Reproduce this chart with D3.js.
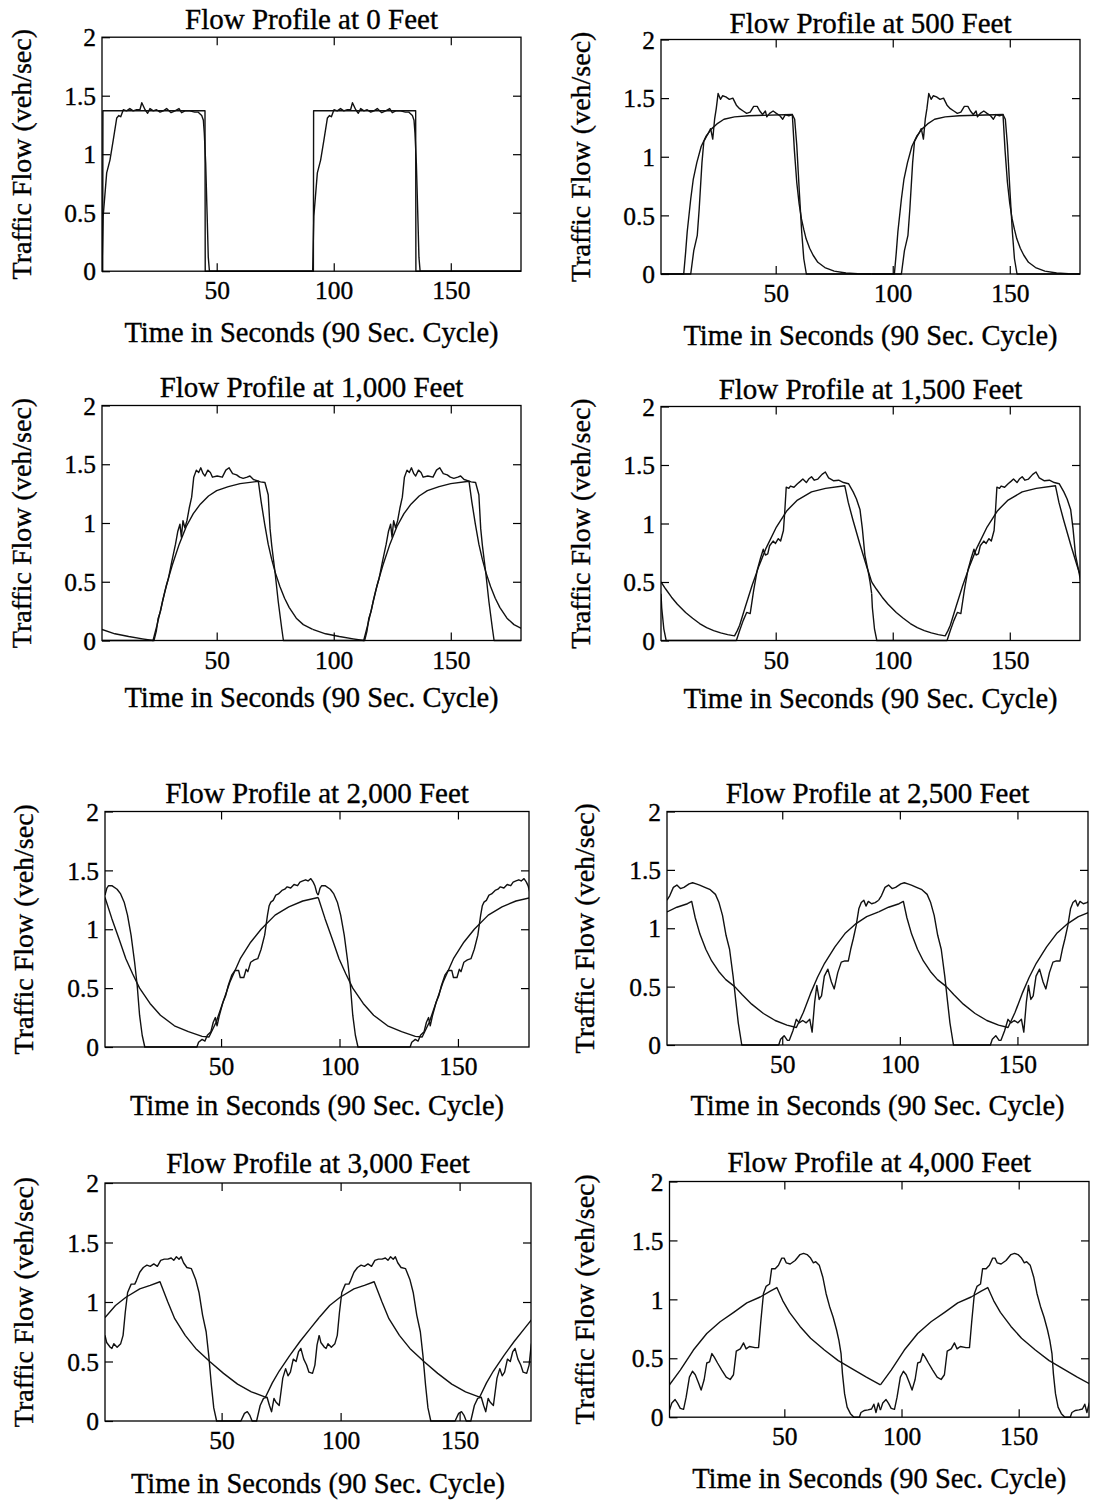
<!DOCTYPE html>
<html>
<head>
<meta charset="utf-8">
<script src="https://cdn.jsdelivr.net/npm/d3@7"></script>
<style>
  body { margin: 0; background: #fff; }
  svg text { font-family: "Liberation Serif", "Times New Roman", serif; fill: #000; stroke: #000; stroke-width: 0.35px; }
</style>
</head>
<body>
<svg id="fig" width="1093" height="1502"></svg>
<script>
// One 90 s signal cycle per series, [time (s), flow (veh/sec)].
// The plots show two identical cycles, so each cycle is drawn at t and t + 90.
const cycleShifts = [0, 90];

const titles = [
  "Flow Profile at 0 Feet", "Flow Profile at 500 Feet",
  "Flow Profile at 1,000 Feet", "Flow Profile at 1,500 Feet",
  "Flow Profile at 2,000 Feet", "Flow Profile at 2,500 Feet",
  "Flow Profile at 3,000 Feet", "Flow Profile at 4,000 Feet"
];
const xTicks = [50, 100, 150];
const yTicks = [0, 0.5, 1, 1.5, 2];
const xLabel = "Time in Seconds (90 Sec. Cycle)";
const yLabel = "Traffic Flow (veh/sec)";

// 0 ft
const sim0 = [[1,0],[1.5,0.47],[3,0.84],[4.4,0.95],[5.8,1.12],[7.3,1.31],[8.2,1.33],[9,1.32],[10.1,1.38],[11.5,1.37],[12.9,1.39],[14.3,1.37],[15.8,1.38],[17.2,1.38],[18,1.44],[19.4,1.38],[20.5,1.35],[21.5,1.39],[22.9,1.37],[24.3,1.38],[25.8,1.36],[27.2,1.37],[28.6,1.39],[30.5,1.355],[32.2,1.37],[33.9,1.39],[35,1.355],[36.5,1.37],[38.5,1.37],[40.6,1.36],[42,1.36],[43.6,1.33],[44.3,1.29],[44.7,1.18],[45.3,0.92],[45.9,0.49],[46.4,0.12],[46.9,0],[91,0]];
const model0 = [[1,0],[1.3,0],[1.4,1.372],[45,1.372],[45.1,0],[91,0]];

// 500 ft
const sim500 = [[1,0],[13.7,0],[15,0.2],[16.5,0.33],[17.3,0.55],[18.5,0.95],[19.3,1.13],[20.3,1.17],[21.2,1.20],[22.2,1.24],[23.1,1.15],[23.9,1.32],[24.6,1.41],[25.4,1.54],[26.4,1.49],[27.3,1.52],[28.7,1.51],[30.2,1.49],[31.7,1.50],[33.2,1.44],[34.6,1.41],[36.1,1.39],[37.6,1.37],[39.1,1.38],[40.6,1.43],[42.1,1.43],[43.2,1.39],[44.4,1.36],[45.6,1.39],[46.2,1.34],[47.4,1.37],[48.9,1.39],[50.3,1.37],[51.8,1.35],[53,1.32],[54.1,1.36],[55.6,1.35],[57.1,1.36],[58.1,1.32],[59,1.10],[60.1,0.70],[61.1,0.36],[62,0.13],[63.1,0],[91,0]];
const model500 = [[1,0],[10.7,0],[11.5,0.18],[12.2,0.36],[13.7,0.64],[14.8,0.81],[16.3,0.95],[18.2,1.09],[20.4,1.18],[22.7,1.24],[24.9,1.28],[27.9,1.32],[32.4,1.34],[38.4,1.35],[57.1,1.36],[58,1.05],[59,0.78],[60,0.6],[61,0.47],[62,0.38],[63,0.3],[64.5,0.22],[66,0.16],[68,0.1],[71,0.055],[75,0.025],[80,0.008],[85,0.002],[91,0]];

// 1,000 ft
const sim1000 = [[1,0],[23.2,0],[24.2,0.08],[25,0.19],[26,0.25],[26.9,0.34],[27.9,0.42],[29.4,0.53],[30.9,0.68],[32.4,0.82],[33.4,0.93],[34.3,0.99],[34.9,0.88],[35.6,1.02],[36.4,0.96],[37.3,1.02],[38.3,1.13],[39.3,1.22],[40.2,1.39],[41.3,1.45],[42.3,1.43],[43.2,1.47],[44.2,1.42],[45,1.40],[46.2,1.45],[47.3,1.43],[48.2,1.39],[50.2,1.40],[52.4,1.39],[53.9,1.45],[55.3,1.47],[56.8,1.42],[58.5,1.41],[59.8,1.39],[61.3,1.38],[63,1.39],[64.2,1.40],[65.7,1.37],[67.2,1.36],[68.7,1.35],[70.6,1.345],[72,1.24],[72.8,0.95],[73.5,0.81],[74.9,0.585],[76.3,0.33],[77.8,0.10],[78.5,0],[91,0]];
const model1000 = [[1,0.094],[6.5,0.057],[12.4,0.034],[18.3,0.014],[22.8,0],[24.5,0.13],[26.5,0.3],[28.5,0.47],[31,0.64],[34,0.82],[37,0.97],[40,1.08],[43,1.16],[46.5,1.23],[50,1.275],[55,1.31],[60,1.335],[67.8,1.355],[69,1.18],[70.5,0.99],[72,0.82],[73.5,0.69],[75,0.58],[77,0.46],[79,0.36],[81,0.28],[84,0.19],[87,0.135],[91,0.094]];

// 1,500 ft
const sim1500 = [[1,0.4],[1.3,0.28],[2.2,0.1],[3.2,0],[33.2,0],[34.6,0.085],[36.1,0.17],[37.6,0.24],[39.1,0.23],[40.6,0.43],[42.1,0.6],[43.6,0.71],[44.7,0.78],[45.6,0.73],[46.6,0.74],[47.4,0.81],[48.9,0.85],[49.9,0.83],[51.1,0.87],[52.1,0.85],[53.3,0.94],[53.9,1.11],[54.5,1.31],[55.6,1.30],[56.3,1.32],[57.8,1.31],[59.3,1.34],[60.5,1.36],[61.6,1.38],[63.1,1.35],[64.1,1.38],[65.3,1.40],[66.5,1.37],[68,1.38],[69.8,1.42],[71.2,1.44],[72.6,1.39],[74.8,1.365],[76.9,1.37],[79,1.35],[81.1,1.34],[83.1,1.27],[84.5,1.21],[86,1.12],[87,0.96],[88.1,0.73],[89.6,0.58],[90.3,0.5],[91,0.4]];
const model1500 = [[1,0.5],[3,0.44],[5.5,0.37],[8,0.31],[11.5,0.24],[14.5,0.19],[17.5,0.145],[20.5,0.11],[23.5,0.085],[26.5,0.065],[29.5,0.05],[32.4,0.04],[33.5,0.08],[34.6,0.13],[36.9,0.28],[39.9,0.47],[42.9,0.64],[45.9,0.79],[50.3,0.97],[54.8,1.11],[59.3,1.2],[65.3,1.27],[71.3,1.30],[79.5,1.323],[81,1.18],[83,1.03],[86,0.82],[88.9,0.63],[90.3,0.545],[91,0.5]];

// 2,000 ft
const sim2000 = [[1,1.29],[1.8,1.35],[2.5,1.37],[3.9,1.37],[6.1,1.34],[7.6,1.30],[9.1,1.23],[10.5,1.12],[12,0.95],[13.5,0.72],[14.6,0.52],[15.6,0.27],[16.7,0.10],[17.8,0],[39.8,0],[40.5,0.04],[42,0.065],[43.2,0.05],[44.2,0.10],[45.7,0.13],[46.7,0.21],[47.6,0.25],[48.3,0.18],[49.3,0.27],[50.8,0.38],[52,0.44],[53,0.52],[54.5,0.61],[55.9,0.65],[57.4,0.65],[58.1,0.59],[59.6,0.59],[60.6,0.66],[61.3,0.64],[62.5,0.72],[64,0.74],[65.5,0.75],[66.9,0.83],[68.4,0.95],[69.6,1.12],[70.3,1.20],[71,1.23],[72,1.245],[73.1,1.29],[74.2,1.30],[75.7,1.33],[76.9,1.34],[77.9,1.36],[79.4,1.35],[80.8,1.38],[82.3,1.37],[83.3,1.40],[84.5,1.41],[85.7,1.42],[86.7,1.41],[87.9,1.43],[88.9,1.40],[89.6,1.37],[90.4,1.31],[91,1.29]];
const model2000 = [[1,1.27],[3.9,1.09],[6.9,0.92],[9.8,0.75],[12.7,0.62],[15.6,0.50],[20,0.37],[24.4,0.27],[30.3,0.18],[36.2,0.13],[42,0.09],[44.9,0.085],[47.9,0.21],[50.8,0.38],[53.7,0.55],[58.1,0.75],[62.5,0.89],[66.9,1.0],[72.8,1.12],[78.6,1.19],[84.5,1.24],[91,1.27]];

// 2,500 ft
const sim2500 = [[1,1.24],[2.2,1.28],[3.7,1.35],[5.2,1.37],[6.7,1.34],[8.2,1.35],[10.4,1.38],[11.9,1.39],[13.4,1.38],[14.9,1.37],[17.1,1.35],[19.4,1.33],[21.6,1.29],[23.1,1.22],[24.6,1.11],[26.1,0.94],[27.6,0.82],[29.1,0.59],[30.3,0.37],[31.3,0.19],[32.8,0],[48.5,0],[49.3,0.05],[50.8,0.08],[52.2,0.04],[53,0.04],[54.5,0.12],[56,0.22],[57.2,0.19],[58.7,0.21],[60.2,0.19],[61.7,0.22],[62.7,0.11],[63.8,0.37],[64.7,0.51],[65.7,0.39],[66.7,0.42],[67.9,0.59],[69.4,0.65],[70.9,0.54],[72.1,0.48],[73.6,0.62],[75.1,0.71],[76.6,0.72],[78.1,0.72],[79.1,0.82],[80.2,0.91],[81.4,1.02],[82.6,1.17],[83.6,1.22],[84.7,1.24],[85.6,1.19],[86.6,1.23],[88,1.21],[89.5,1.22],[91,1.24]];
const model2500 = [[1,1.14],[5.2,1.18],[9.7,1.21],[11.5,1.23],[13,1.09],[15,0.95],[17.5,0.82],[20,0.72],[23,0.63],[26,0.56],[29.8,0.5],[33,0.43],[37,0.35],[42,0.27],[47,0.21],[52,0.17],[56,0.15],[59,0.28],[62,0.44],[65,0.58],[68,0.7],[72.4,0.84],[76.9,0.96],[81.4,1.04],[85.9,1.1],[91,1.14]];

// 3,000 ft
const sim3000 = [[1,0.72],[1.7,0.66],[3.2,0.62],[3.9,0.61],[4.7,0.65],[6.1,0.62],[7.6,0.65],[8.6,0.72],[9.5,0.91],[10.5,1.08],[12,1.15],[13.5,1.15],[14.2,1.18],[15.6,1.25],[17.1,1.29],[18.6,1.31],[20,1.30],[21.5,1.32],[23,1.30],[24.4,1.35],[25.9,1.36],[27.4,1.36],[28.8,1.37],[29.9,1.35],[31,1.38],[32.1,1.36],[33,1.38],[34,1.33],[35.4,1.29],[37.3,1.28],[39.1,1.19],[40.5,1.08],[42,0.89],[43.5,0.75],[44.6,0.55],[45.7,0.30],[46.7,0.11],[47.9,0],[58.1,0],[59.6,0.064],[60.8,0.078],[61.8,0.05],[62.8,0],[64.7,0],[66.2,0.13],[67.6,0.19],[69.1,0.20],[70.1,0.13],[71,0.078],[72,0.19],[72.8,0.16],[74.2,0.13],[75.7,0.36],[76.9,0.44],[77.9,0.38],[78.9,0.41],[80.1,0.52],[81.3,0.50],[82.3,0.58],[83.3,0.61],[84.5,0.52],[85.7,0.47],[86.7,0.41],[88.2,0.40],[89.2,0.47],[90.1,0.64],[91,0.72]];
const model3000 = [[1,0.87],[5.4,0.97],[9.8,1.04],[15.6,1.11],[20,1.14],[24.1,1.17],[27.4,1.0],[30.3,0.86],[34.7,0.72],[39.1,0.61],[45,0.50],[50.8,0.40],[56.7,0.31],[62.5,0.245],[68.4,0.20],[71.3,0.32],[74.2,0.42],[78.6,0.55],[83,0.67],[87.4,0.78],[91,0.87]];

// 4,000 ft
const sim4000 = [[1,0.06],[2,0.12],[3.4,0.15],[4.4,0.12],[5.6,0.075],[7,0.067],[8.1,0.17],[9.5,0.34],[10.8,0.39],[12,0.36],[13.4,0.29],[14.5,0.23],[15.8,0.32],[16.9,0.46],[18.1,0.47],[19.1,0.54],[20.1,0.51],[21.5,0.46],[23.3,0.40],[25.2,0.34],[26.9,0.32],[28.3,0.36],[29.5,0.56],[31.2,0.58],[32.6,0.63],[33.7,0.58],[35.1,0.60],[37.5,0.59],[39,0.59],[40,0.82],[41.1,1.05],[42.2,1.11],[43.7,1.13],[44.6,1.26],[46.1,1.26],[47.5,1.29],[48.9,1.35],[49.9,1.35],[50.8,1.31],[52.5,1.30],[54.6,1.33],[56.7,1.38],[58.2,1.39],[59.7,1.38],[61.2,1.35],[62.4,1.31],[63.4,1.32],[64.9,1.29],[66.4,1.19],[67.8,1.05],[69.3,0.94],[70.8,0.85],[72.3,0.74],[73.3,0.65],[74.2,0.54],[74.8,0.37],[75.7,0.20],[76.8,0.085],[78.2,0.03],[79.7,0],[82,0],[82.7,0.04],[84.2,0.057],[85.7,0.062],[87.2,0.07],[88.2,0.11],[89.1,0.04],[90.1,0.12],[91,0.06]];
const model4000 = [[1,0.275],[5.6,0.40],[11.2,0.57],[16.9,0.71],[22.6,0.81],[28.4,0.89],[34,0.97],[39.7,1.02],[44,1.07],[46.8,1.10],[49.3,0.99],[52.2,0.89],[56.7,0.77],[61.2,0.67],[67.1,0.57],[73,0.48],[79,0.41],[85,0.34],[91,0.275]];

const simSeries = [sim0, sim500, sim1000, sim1500, sim2000, sim2500, sim3000, sim4000];
const modelSeries = [model0, model500, model1000, model1500, model2000, model2500, model3000, model4000];

// page layout: plot frame and text positions for each panel
const layout = [
  { x0: 102, x1: 521, y0: 37.2, y1: 271.2, titleY: 28.5, xlabY: 342, ylabX: 31 },
  { x0: 661, x1: 1080, y0: 39.5, y1: 274, titleY: 33.3, xlabY: 345, ylabX: 590 },
  { x0: 102, x1: 521, y0: 405.5, y1: 640.5, titleY: 396.7, xlabY: 706.7, ylabX: 31 },
  { x0: 661, x1: 1080, y0: 406.5, y1: 640.5, titleY: 399.3, xlabY: 708, ylabX: 590 },
  { x0: 105, x1: 529, y0: 811.5, y1: 1047, titleY: 803.3, xlabY: 1115, ylabX: 33 },
  { x0: 667, x1: 1088, y0: 811.5, y1: 1045, titleY: 803.3, xlabY: 1115, ylabX: 594 },
  { x0: 105, x1: 531, y0: 1183, y1: 1421, titleY: 1173.3, xlabY: 1493, ylabX: 33 },
  { x0: 669.5, x1: 1089, y0: 1181.5, y1: 1417.2, titleY: 1171.7, xlabY: 1488, ylabX: 594 }
];

const svg = d3.select('#fig');
const tickLen = 8;

function styleAxis(sel) {
  sel.select('.domain').remove();
  sel.selectAll('line').attr('stroke', '#000').attr('stroke-width', 1.2);
  sel.selectAll('text')
    .attr('font-size', 25.5)
    .style('font-family', '"Liberation Serif", "Times New Roman", serif');
}

function drawPanel(i) {
  const box = layout[i];
  const x = d3.scaleLinear().domain([1, 180]).range([box.x0, box.x1]);
  const y = d3.scaleLinear().domain([0, 2]).range([box.y1, box.y0]);
  const g = svg.append('g');

  g.append('clipPath').attr('id', 'clip' + i)
    .append('rect')
      .attr('x', box.x0).attr('y', box.y0 - 2)
      .attr('width', box.x1 - box.x0).attr('height', box.y1 - box.y0 + 4);

  const line = d3.line().x(d => x(d[0])).y(d => y(d[1]));
  const curves = g.append('g').attr('clip-path', `url(#clip${i})`);

  [modelSeries[i], simSeries[i]].forEach(series => {
    cycleShifts.forEach(shift => {
      curves.append('path')
        .datum(series.map(d => [d[0] + shift, d[1]]))
        .attr('d', line)
        .attr('fill', 'none')
        .attr('stroke', '#111')
        .attr('stroke-width', 1.4)
        .attr('stroke-linejoin', 'round');
    });
  });

  // ticks point inward on all four sides
  const bottom = g.append('g').attr('transform', `translate(0,${box.y1})`)
    .call(d3.axisBottom(x).tickValues(xTicks).tickSizeInner(-tickLen).tickSizeOuter(0));
  styleAxis(bottom);
  bottom.selectAll('text').attr('y', 28).attr('dy', null);

  const top = g.append('g').attr('transform', `translate(0,${box.y0})`)
    .call(d3.axisTop(x).tickValues(xTicks).tickSizeInner(-tickLen).tickSizeOuter(0).tickFormat(''));
  styleAxis(top);

  const left = g.append('g').attr('transform', `translate(${box.x0},0)`)
    .call(d3.axisLeft(y).tickValues(yTicks).tickSizeInner(-tickLen).tickSizeOuter(0)
      .tickPadding(6).tickFormat(d => String(d)));
  styleAxis(left);
  left.selectAll('text').attr('dy', '0.34em');

  const right = g.append('g').attr('transform', `translate(${box.x1},0)`)
    .call(d3.axisRight(y).tickValues(yTicks.slice(1, 4)).tickSizeInner(-tickLen).tickSizeOuter(0).tickFormat(''));
  styleAxis(right);

  g.append('rect')
    .attr('x', box.x0).attr('y', box.y0)
    .attr('width', box.x1 - box.x0).attr('height', box.y1 - box.y0)
    .attr('fill', 'none').attr('stroke', '#000').attr('stroke-width', 1.3);

  const cx = (box.x0 + box.x1) / 2;
  g.append('text')
    .attr('x', cx).attr('y', box.titleY)
    .attr('text-anchor', 'middle').attr('font-size', 29)
    .text(titles[i]);

  g.append('text')
    .attr('x', cx).attr('y', box.xlabY)
    .attr('text-anchor', 'middle').attr('font-size', 28.5)
    .text(xLabel);

  g.append('text')
    .attr('transform', `translate(${box.ylabX},${(box.y0 + box.y1) / 2}) rotate(-90)`)
    .attr('text-anchor', 'middle').attr('font-size', 28)
    .text(yLabel);
}

titles.forEach((t, i) => drawPanel(i));
</script>
</body>
</html>
